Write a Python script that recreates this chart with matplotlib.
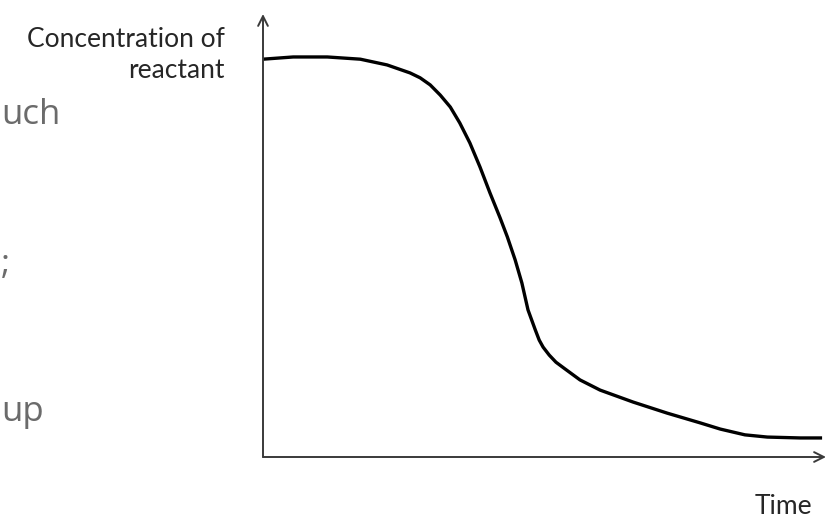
import matplotlib
matplotlib.use("Agg")
import matplotlib.pyplot as plt

# Curve: time (0..10) vs concentration (0..1)
time = [0.0, 0.54, 1.15, 1.74, 2.22, 2.63, 2.81, 2.99, 3.17, 3.35, 3.52, 3.70,
        3.88, 4.06, 4.24, 4.37, 4.51, 4.63, 4.74, 4.87, 4.94, 5.01, 5.12, 5.24,
        5.40, 5.67, 6.03, 6.62, 7.23, 7.82, 8.18, 8.62, 9.02, 9.61, 10.0]
conc = [0.898, 0.903, 0.903, 0.898, 0.885, 0.867, 0.856, 0.840, 0.817, 0.790,
        0.754, 0.709, 0.655, 0.596, 0.540, 0.497, 0.445, 0.393, 0.332, 0.287,
        0.264, 0.248, 0.230, 0.214, 0.199, 0.174, 0.151, 0.124, 0.099, 0.077,
        0.063, 0.050, 0.045, 0.043, 0.043]

side_text = ["uch", ";", "up"]
side_y = [115, 265, 412]

W, H = 832, 528
fig = plt.figure(figsize=(W / 100, H / 100), dpi=100)
ax = fig.add_axes([263 / W, (H - 457) / H, (826 - 263) / W, (457 - 14) / H])
ax.set_xlim(0, 10.07)
ax.set_ylim(0, 1)
ax.axis("off")

ax.plot(time, conc, color="black", lw=2.4, solid_joinstyle="round",
        solid_capstyle="butt", clip_on=False)

# axes drawn as open arrows
axis_col = "#3a3a3a"
for tip in [(0, 1), (1, 0)]:
    ax.annotate("", xy=tip, xytext=(0, 0), xycoords="axes fraction",
                arrowprops=dict(arrowstyle="->,head_length=0.7,head_width=0.35",
                                color=axis_col, lw=1.4, shrinkA=0, shrinkB=0))

lab_font = ["Lato", "DejaVu Sans"]
fig.text(225 / W, 1 - 55 / H, "Concentration of\nreactant", ha="right", va="center",
         fontsize=19, family=lab_font, color="#262626", linespacing=1.32)
fig.text(783 / W, 1 - 507 / H, "Time", ha="center", va="center",
         fontsize=19, family=lab_font, color="#262626")

for s, y in zip(side_text, side_y):
    fig.text(1 / W, 1 - y / H, s, ha="left", va="center", fontsize=25,
             family=["Open Sans", "DejaVu Sans"], color="#6b6b6b")

fig.savefig("out.png", dpi=100)
